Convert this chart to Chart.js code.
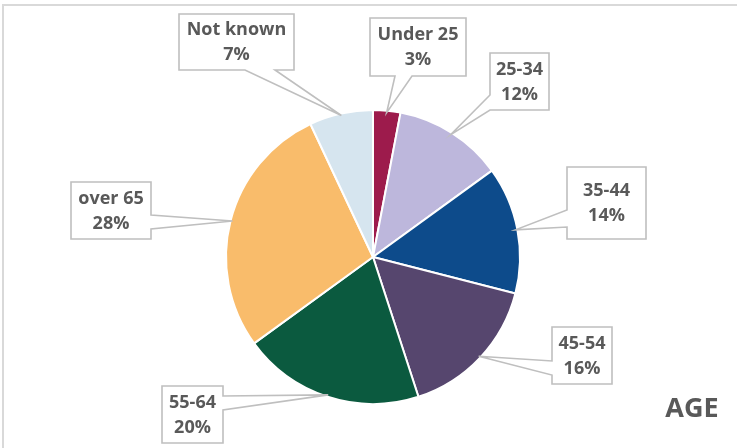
<!DOCTYPE html>
<html lang="en">
<head>
    <meta charset="UTF-8">
    <title>Age breakdown</title>
    <script src="https://cdn.jsdelivr.net/npm/chart.js"></script>
    <style>
        body {
            margin: 0;
            padding: 0;
            background-color: #ffffff;
        }
        #ageChart {
            display: block;
        }
    </style>
</head>
<body>
    <canvas id="ageChart" width="737" height="448"></canvas>

    <script>
        // age bands, clockwise from 12 o'clock
        const ageBands = ['Under 25', '25-34', '35-44', '45-54', '55-64', 'over 65', 'Not known'];
        const sharePct = [3, 12, 14, 16, 20, 28, 7];
        const bandColours = ['#9d1b4c', '#bdb7dc', '#0d4b8b', '#56466e', '#0b5a3f', '#f9bc6b', '#d6e5ef'];

        // callout boxes: [left, top, right, bottom], plus which edge the pointer leaves from
        const calloutBoxes = [
            { box: [370, 18, 466, 76], side: 'bottom', base: [395, 412] },
            { box: [490, 53, 549, 110], side: 'left', base: [95, 110] },
            { box: [567, 167, 646, 239], side: 'left', base: [210, 227] },
            { box: [552, 327, 612, 384], side: 'left', base: [361, 375] },
            { box: [162, 386, 223, 443], side: 'right', base: [396, 410] },
            { box: [71, 182, 151, 239], side: 'right', base: [215, 229] },
            { box: [179, 14, 294, 70], side: 'bottom', base: [245, 275] }
        ];

        const textGrey = '#595959';
        const lineGrey = '#bfbfbf';

        // outline of a box with a wedge running out to the tip
        function calloutPath(ctx, c, tip) {
            const [x0, y0, x1, y1] = c.box;
            const [b0, b1] = c.base;
            ctx.beginPath();
            ctx.moveTo(x0, y0);
            ctx.lineTo(x1, y0);
            if (c.side === 'right') {
                ctx.lineTo(x1, b0);
                ctx.lineTo(tip.x, tip.y);
                ctx.lineTo(x1, b1);
            }
            ctx.lineTo(x1, y1);
            if (c.side === 'bottom') {
                ctx.lineTo(b1, y1);
                ctx.lineTo(tip.x, tip.y);
                ctx.lineTo(b0, y1);
            }
            ctx.lineTo(x0, y1);
            if (c.side === 'left') {
                ctx.lineTo(x0, b1);
                ctx.lineTo(tip.x, tip.y);
                ctx.lineTo(x0, b0);
            }
            ctx.closePath();
        }

        const frameAndTitle = {
            id: 'frameAndTitle',
            beforeDraw(chart) {
                const ctx = chart.ctx;
                ctx.save();
                ctx.strokeStyle = '#d9d9d9';
                ctx.lineWidth = 2;
                ctx.strokeRect(3, 5, 760, 460);
                ctx.restore();
            },
            afterDraw(chart) {
                const ctx = chart.ctx;
                ctx.save();
                ctx.fillStyle = textGrey;
                ctx.font = 'bold 27px "Open Sans"';
                ctx.textAlign = 'center';
                ctx.textBaseline = 'alphabetic';
                ctx.fillText('AGE', 692, 417);
                ctx.restore();
            }
        };

        const callouts = {
            id: 'callouts',
            afterDatasetsDraw(chart) {
                const ctx = chart.ctx;
                const arcs = chart.getDatasetMeta(0).data;
                ctx.save();
                arcs.forEach((arc, i) => {
                    const p = arc.getProps(['x', 'y', 'startAngle', 'endAngle', 'outerRadius'], true);
                    const mid = (p.startAngle + p.endAngle) / 2;
                    const r = p.outerRadius - 2;
                    const tip = { x: p.x + Math.cos(mid) * r, y: p.y + Math.sin(mid) * r };
                    const c = calloutBoxes[i];

                    calloutPath(ctx, c, tip);
                    ctx.fillStyle = '#ffffff';
                    ctx.fill();
                    ctx.strokeStyle = lineGrey;
                    ctx.lineWidth = 1.6;
                    ctx.lineJoin = 'miter';
                    ctx.stroke();

                    const cx = (c.box[0] + c.box[2]) / 2;
                    const cy = (c.box[1] + c.box[3]) / 2;
                    ctx.fillStyle = textGrey;
                    ctx.font = 'bold 18px "Open Sans"';
                    ctx.textAlign = 'center';
                    ctx.textBaseline = 'middle';
                    ctx.fillText(ageBands[i], cx, cy - 12);
                    ctx.fillText(sharePct[i] + '%', cx, cy + 13);
                });
                ctx.restore();
            }
        };

        function drawChart() {
            new Chart(document.getElementById('ageChart'), {
                type: 'pie',
                data: {
                    labels: ageBands,
                    datasets: [{
                        data: sharePct,
                        backgroundColor: bandColours,
                        borderColor: '#ffffff',
                        borderWidth: 2,
                        radius: 147,
                        hoverOffset: 0
                    }]
                },
                options: {
                    responsive: false,
                    devicePixelRatio: 1,
                    animation: false,
                    events: [],
                    layout: {
                        padding: { left: 227, right: 218, top: 111, bottom: 45 }
                    },
                    plugins: {
                        legend: { display: false },
                        tooltip: { enabled: false }
                    }
                },
                plugins: [frameAndTitle, callouts]
            });
        }

        document.fonts.load('bold 18px "Open Sans"').then(drawChart, drawChart);
    </script>
</body>
</html>
